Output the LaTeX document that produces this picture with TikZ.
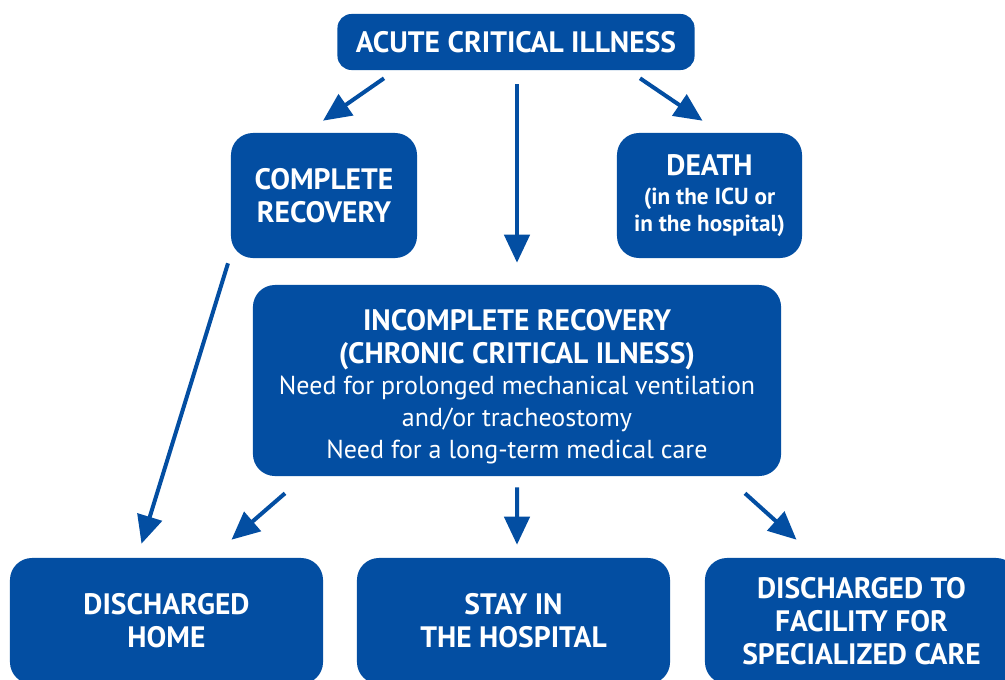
\documentclass[tikz,border=0pt]{standalone}
\usepackage{fontspec}
\setmainfont{PT Sans}
\usetikzlibrary{arrows.meta, positioning, calc}
\definecolor{icublue}{RGB}{3,78,162}
\newcommand\notefont{\bfseries\fontsize{16.5}{19}\selectfont}
\newcommand\bodyfont{\mdseries\fontsize{18.5}{21.5}\selectfont}

\begin{document}
\begin{tikzpicture}[x=0.025cm, y=-0.025cm,
  box/.style={fill=icublue, rounded corners=0.55cm, text=white, align=center, inner sep=0pt},
  head/.style={font=\bfseries\fontsize{21}{23.6}\selectfont},
  arr/.style={-{Triangle[length=0.7cm,width=0.63cm]}, line width=0.1cm, icublue}]
\useasboundingbox (0,0) rectangle (1005,679);
\clip (0,0) rectangle (1005,679);
% top row
\node[box, head, rounded corners=0.35cm, minimum width=8.925cm, minimum height=1.4cm] (acute) at (516,42) {ACUTE CRITICAL ILLNESS};
\node[box, head, minimum width=4.65cm, minimum height=3.125cm] (complete) at (324,195.5) {COMPLETE\\RECOVERY};
\node[box, head, minimum width=4.625cm, minimum height=3.125cm] (death) at (709.5,195.5)
  {DEATH\\[-3pt]\notefont (in the ICU or\\[-4.5pt]\notefont in the hospital)};
% middle
\node[box, head, minimum width=13.2cm, minimum height=4.775cm] (incomplete) at (517,380.5)
  {\rule{0pt}{24pt}INCOMPLETE RECOVERY\\(CHRONIC CRITICAL ILNESS)\\[-1.5pt]
   \bodyfont Need for prolonged mechanical ventilation\\[-1pt]\bodyfont and/or tracheostomy\\[-1pt]
   \bodyfont Need for a long-term medical care};
% bottom row
\node[box, head, minimum width=7.825cm, minimum height=3.15cm] (home) at (166.5,621) {DISCHARGED\\HOME};
\node[box, head, minimum width=7.825cm, minimum height=3.15cm] (stay) at (513.5,621) {STAY IN\\THE HOSPITAL};
\node[box, head, minimum width=7.825cm, minimum height=3.15cm] (facility) at (861.5,621) {DISCHARGED TO\\FACILITY FOR\\SPECIALIZED CARE};
% arrows
\draw[arr] ($(acute.south)+(-132,8)$) -- ($(complete.north)+(-1,-12)$);
\draw[arr] ($(acute.south)+(1,14)$) -- ($(incomplete.north)+(0,-22)$);
\draw[arr] ($(acute.south)+(124,8)$) -- ($(death.north)+(-7,-12)$);
\draw[arr] ($(complete.south)+(-96,5)$) -- ($(home.north)+(-25,-14)$);
\draw[arr] ($(incomplete.south)+(-232,17)$) -- ($(home.north)+(65,-18)$);
\draw[arr] ($(incomplete.south)+(0,11)$) -- ($(stay.north)+(3.5,-13)$);
\draw[arr] ($(incomplete.south)+(228,17)$) -- ($(facility.north)+(-65,-18)$);
\end{tikzpicture}
\end{document}
